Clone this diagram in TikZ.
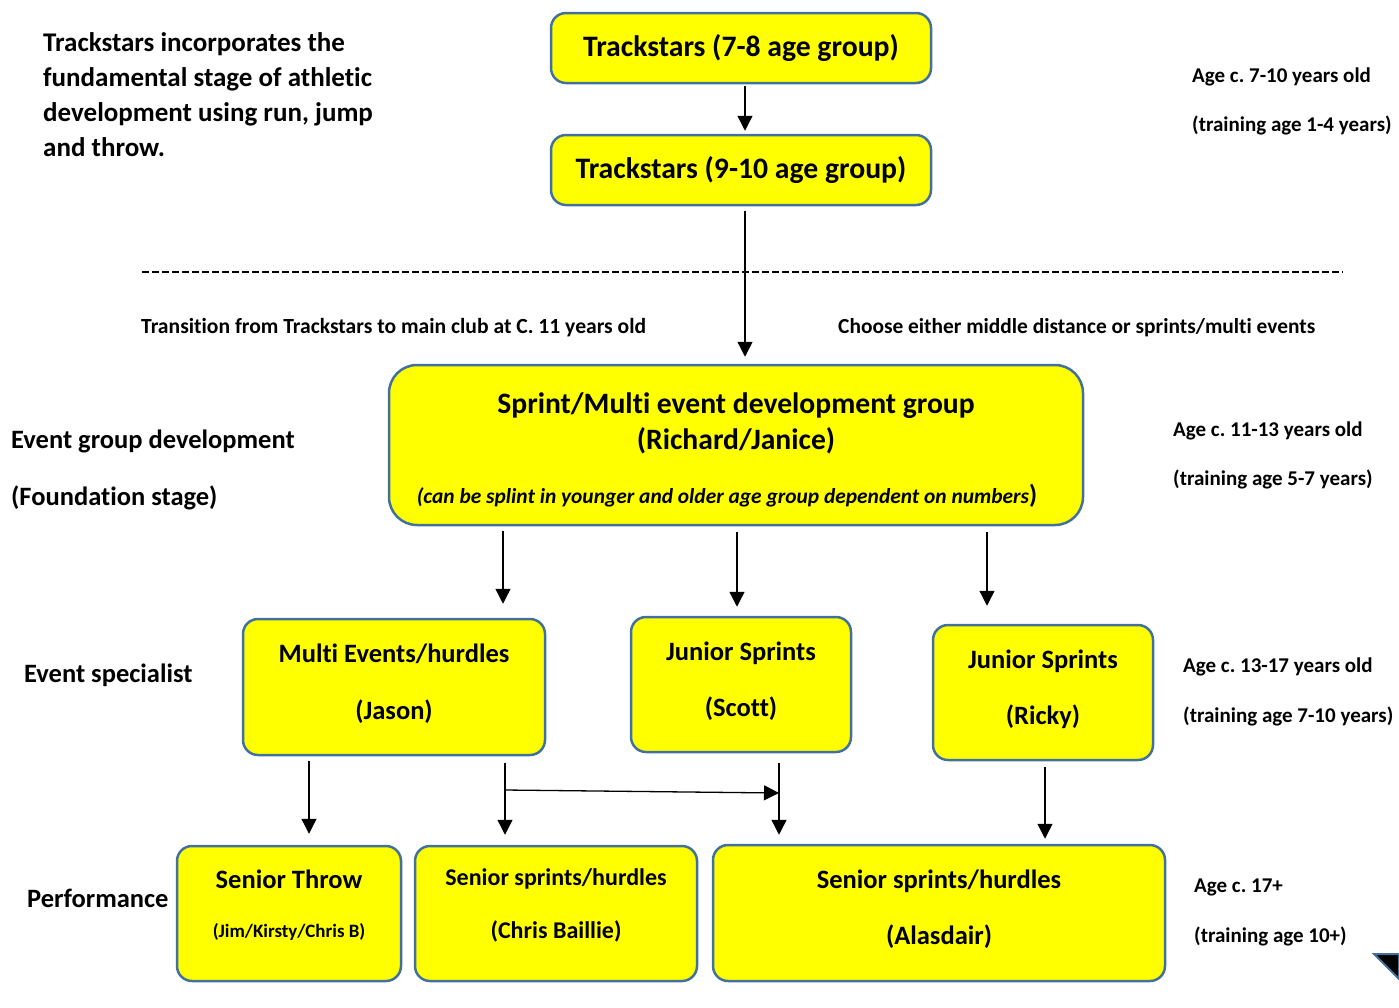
\documentclass[tikz,border=0pt]{standalone}
\usepackage{fontspec}
\setmainfont{Carlito}[Ligatures={TeX,NoCommon}]
\usepackage{tikz}
\usetikzlibrary{arrows.meta}
\frenchspacing
\definecolor{boxblue}{RGB}{65,113,156}
\definecolor{boxyellow}{RGB}{255,255,0}
\newcommand{\setfs}[2]{\fontsize{#1}{#2}\selectfont}
\newcommand{\lowstrut}[1]{\rule[-#1]{0pt}{#1}}
\newcommand{\highstrut}[1]{\rule{0pt}{#1}}
\tikzstyle{yellowbox} = [rectangle, rounded corners=15pt, draw=boxblue, line width=2.5pt, fill=boxyellow, text centered, align=center, inner sep=0pt]
\tikzstyle{sidetext} = [anchor=west, align=left, inner sep=0pt]
\tikzstyle{arrow} = [line width=1.3pt, -{Triangle[length=15pt,width=15pt]}]

\begin{document}
\begin{tikzpicture}[x=1pt, y=-1pt]
    \useasboundingbox (0,0) rectangle (1399,1007);

    % trackstars
    \node (tsyoung) [yellowbox, minimum width=380pt, minimum height=70pt, font=\bfseries\setfs{29.7}{35}] at (741,48) {Trackstars (7-8 age group)};
    \node (tsold) [yellowbox, minimum width=380pt, minimum height=70pt, font=\bfseries\setfs{29.7}{35}] at (741,170) {Trackstars (9-10 age group)};

    \node (intro) [sidetext, anchor=north west, font=\bfseries\setfs{27}{35}] at (43,32) {Trackstars incorporates the\\fundamental stage of athletic\\development using run, jump\\and throw.};
    \node (ageyoung) [sidetext, font=\bfseries\setfs{21}{49}] at (1192,101.5) {Age c. 7-10 years old\\(training age 1-4 years)};

    \draw [line width=1.2pt, dash pattern=on 7pt off 3pt] (142,272) -- (1343,272);
    \node (transition) [sidetext, font=\bfseries\setfs{21.6}{25}] at (141,328) {Transition from Trackstars to main club at C. 11 years old};
    \node (choose) [sidetext, font=\bfseries\setfs{21.4}{25}] at (838,328) {Choose either middle distance or sprints/multi events};

    % event group development
    \node (sprint) [yellowbox, rounded corners=28pt, minimum width=694pt, minimum height=160pt, font=\bfseries\setfs{29.6}{36}] at (736,445) {\highstrut{31pt}Sprint/Multi event development group\\(Richard/Janice)\\[18pt]{\itshape\setfs{21.4}{24}(can be splint in younger and older age group dependent on numbers}{\setfs{26}{24})}\hspace*{18pt}};
    \node (groupdev) [sidetext, font=\bfseries\setfs{26.5}{57}] at (11,469.5) {Event group development\\(Foundation stage)};
    \node (agegroup) [sidetext, font=\bfseries\setfs{21}{49}] at (1173,455.5) {Age c. 11-13 years old\\(training age 5-7 years)};

    % event specialist
    \node (multi) [yellowbox, minimum width=302pt, minimum height=136pt, font=\bfseries\setfs{26.5}{57}] at (394,687) {Multi Events/hurdles\\(Jason)\lowstrut{11.3pt}};
    \node (scott) [yellowbox, minimum width=220pt, minimum height=135pt, font=\bfseries\setfs{26.5}{56}] at (741,684.5) {Junior Sprints\\(Scott)\lowstrut{10.3pt}};
    \node (ricky) [yellowbox, minimum width=220pt, minimum height=135pt, font=\bfseries\setfs{26.5}{56}] at (1043,692.5) {Junior Sprints\\(Ricky)\lowstrut{10.3pt}};
    \node (specialist) [sidetext, font=\bfseries\setfs{26.5}{30}] at (24,675) {Event specialist};
    \node (agespec) [sidetext, font=\bfseries\setfs{21}{50}] at (1183,692) {Age c. 13-17 years old\\(training age 7-10 years)};

    % performance
    \node (throw) [yellowbox, minimum width=224pt, minimum height=135pt, font=\bfseries\setfs{26.5}{49}] at (289,913.5) {Senior Throw\\{\setfs{18.9}{22}(Jim/Kirsty/Chris B)\lowstrut{19.4pt}}};
    \node (chris) [yellowbox, minimum width=282pt, minimum height=135pt, font=\bfseries\setfs{24}{53}] at (556,913.5) {Senior sprints/hurdles\\(Chris Baillie)\lowstrut{19.3pt}};
    \node (alasdair) [yellowbox, minimum width=452pt, minimum height=136pt, font=\bfseries\setfs{26.5}{56}] at (939,913) {Senior sprints/hurdles\\(Alasdair)\lowstrut{12.3pt}};
    \node (performance) [sidetext, font=\bfseries\setfs{26.5}{30}] at (27,898) {Performance};
    \node (ageperf) [sidetext, font=\bfseries\setfs{21}{50}] at (1194,912) {Age c. 17+\\(training age 10+)};

    \filldraw [fill=black, draw=boxblue, line width=2pt] (1374,954) -- (1399,954) -- (1399,979) -- cycle;

    \coordinate (split) at (505,790);
    \coordinate (merge) at (779,793);

    \draw [arrow, shorten <=2pt, shorten >=3pt] (tsyoung.south -| 745,0) -- (tsold.north -| 745,0);
    \draw [arrow, shorten <=5pt, shorten >=7pt] (tsold.south -| 745,0) -- (sprint.north -| 745,0);
    \draw [arrow, shorten <=5pt, shorten >=14pt] (sprint.south -| 503,0) -- (multi.north -| 503,0);
    \draw [arrow, shorten <=6pt, shorten >=9pt] (sprint.south -| 737,0) -- (scott.north -| 737,0);
    \draw [arrow, shorten <=6pt, shorten >=18pt] (sprint.south -| 987,0) -- (ricky.north -| 987,0);
    \draw [arrow, shorten <=5pt, shorten >=11pt] (multi.south -| 309,0) -- (throw.north -| 309,0);
    \draw [arrow, shorten <=7pt, shorten >=10pt] (multi.south -| 505,0) -- (chris.north -| 505,0);
    \draw [arrow, shorten <=10pt, shorten >=9pt] (scott.south -| 779,0) -- (alasdair.north -| 779,0);
    \draw [arrow, shorten <=6pt, shorten >=5pt] (ricky.south -| 1045,0) -- (alasdair.north -| 1045,0);
    \draw [arrow] (split) -- (merge);
  \end{tikzpicture}
\end{document}
